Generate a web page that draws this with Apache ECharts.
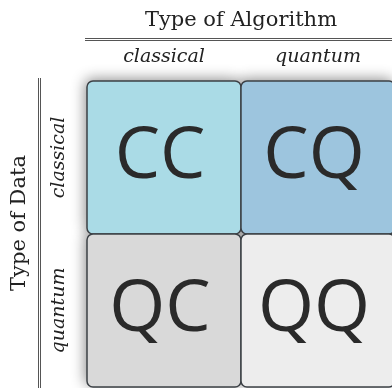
<!DOCTYPE html>
<html>
<head>
<meta charset="utf-8">
<script src="https://cdn.jsdelivr.net/npm/echarts@6/dist/echarts.min.js"></script>
<style>
  html, body { margin: 0; padding: 0; background: #fff; }
  #main { width: 392px; height: 388px; }
</style>
</head>
<body>
<div id="main"></div>
<script type="text/javascript">
// 轴类别
var algoTypes = ['classical', 'quantum'];
var dataTypes = ['classical', 'quantum'];
// 单元格: [算法, 数据, 标签]
var cells = [
    ['classical', 'classical', 'CC'],
    ['quantum', 'classical', 'CQ'],
    ['classical', 'quantum', 'QC'],
    ['quantum', 'quantum', 'QQ']
];
var cellColors = ['#aadbe6', '#9dc5de', '#d9d9d9', '#ededed'];

var serif = '"DejaVu Serif", "Liberation Serif", serif';

function cellRect(api) {
    var p = api.coord([api.value(0), api.value(1)]);
    var s = api.size([1, 1]);
    return { x: p[0] - s[0] / 2, y: p[1] - s[1] / 2, width: s[0], height: s[1], r: 6 };
}

var myChart = echarts.init(document.getElementById('main'));
var option = {
    animation: false,
    grid: { left: 87, top: 81, width: 308, height: 306, outerBoundsMode: 'none', containLabel: false },
    xAxis: {
        type: 'category',
        position: 'top',
        data: algoTypes,
        axisLine: { show: false },
        axisTick: { show: false },
        axisLabel: { margin: 14, fontFamily: serif, fontStyle: 'italic', fontSize: 19, color: '#222' },
        name: 'Type of Algorithm',
        nameLocation: 'middle',
        nameGap: 50,
        nameTextStyle: { fontFamily: serif, fontSize: 21, color: '#222' }
    },
    yAxis: {
        type: 'category',
        inverse: true,
        data: dataTypes,
        axisLine: { show: false },
        axisTick: { show: false },
        axisLabel: { margin: 28, rotate: 90, fontFamily: serif, fontStyle: 'italic', fontSize: 19, color: '#222', align: 'center', verticalAlign: 'middle' },
        name: 'Type of Data',
        nameLocation: 'middle',
        nameRotate: 90,
        nameGap: 57,
        nameTextStyle: { fontFamily: serif, fontSize: 21, color: '#222', padding: [0, 0, 0, 22] }
    },
    graphic: [
        // 双线
        { type: 'line', shape: { x1: 85, y1: 38.5, x2: 392, y2: 38.5 }, style: { stroke: '#555', lineWidth: 1 } },
        { type: 'line', shape: { x1: 85, y1: 40.5, x2: 392, y2: 40.5 }, style: { stroke: '#555', lineWidth: 1 } },
        { type: 'line', shape: { x1: 38.5, y1: 78, x2: 38.5, y2: 388 }, style: { stroke: '#555', lineWidth: 1 } },
        { type: 'line', shape: { x1: 40.5, y1: 78, x2: 40.5, y2: 388 }, style: { stroke: '#555', lineWidth: 1 } }
    ],
    series: [
        {
            // 阴影层
            type: 'custom',
            z: 1,
            data: cells,
            encode: { x: 0, y: 1 },
            renderItem: function (params, api) {
                return {
                    type: 'rect',
                    shape: cellRect(api),
                    style: { fill: '#fff', shadowBlur: 14, shadowColor: 'rgba(0,0,0,0.45)', shadowOffsetX: -2, shadowOffsetY: -2 }
                };
            }
        },
        {
            type: 'custom',
            z: 2,
            data: cells,
            encode: { x: 0, y: 1 },
            renderItem: function (params, api) {
                var r = cellRect(api);
                return {
                    type: 'group',
                    children: [
                        {
                            type: 'rect',
                            shape: r,
                            style: { fill: cellColors[params.dataIndex], stroke: '#3c4146', lineWidth: 1.5 }
                        },
                        {
                            type: 'text',
                            style: {
                                text: cells[params.dataIndex][2],
                                x: r.x + r.width / 2 - 4,
                                y: r.y + r.height / 2,
                                align: 'center',
                                verticalAlign: 'middle',
                                font: '400 72px "Open Sans", "Noto Sans", sans-serif',
                                fill: '#2a2a2a'
                            }
                        }
                    ]
                };
            }
        }
    ]
};
myChart.setOption(option);
</script>
</body>
</html>
